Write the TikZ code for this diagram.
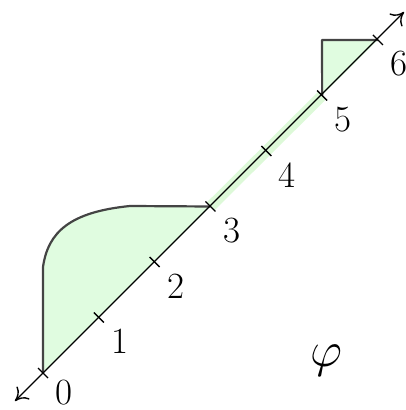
\documentclass[tikz,border=0pt]{standalone}
\usetikzlibrary{calc,arrows.meta}
\definecolor{fillgreen}{HTML}{E0FCE0}
\definecolor{bandgreen}{HTML}{DDF9D8}
\definecolor{edgegray}{HTML}{444444}
\begin{document}
\begin{tikzpicture}[x=0.5pt,y=-0.5pt,
  axisline/.style={line width=0.7pt,black},
  tickmark/.style={line width=0.7pt,black},
  outline/.style={draw=edgegray,line width=1.1pt,line join=round},
  numlabel/.style={font=\fontsize{18.5}{22}\selectfont,inner sep=0pt}]
\useasboundingbox (0,0) rectangle (405,410);
% tick coordinates
\foreach \i in {0,...,6}{
  \coordinate (t\i) at ({43+55.83*\i},{373-55.5*\i});
}
\coordinate (a0) at (15,401);
\coordinate (a1) at (404,12);
% green band between 3 and 5
\draw[bandgreen,line width=5.5pt] (t3) -- (t5);
% first region
\coordinate (c0) at (43,267);
\coordinate (c1) at (130,206);
\fill[fillgreen] (t0) -- (c0) .. controls (48,232) and (70,212) .. (c1) -- (t3) -- cycle;
\draw[outline] (t0) -- (c0) .. controls (48,232) and (70,212) .. (c1) -- (t3);
% second region
\coordinate (d0) at (322,40);
\fill[fillgreen] (t5) -- (d0) -- (t6) -- cycle;
\draw[outline] (t5) -- (d0) -- (t6);
% axis
\draw[axisline,{Computer Modern Rightarrow[length=6pt,width=9pt]}-{Computer Modern Rightarrow[length=6pt,width=9pt]}] (a0) -- (a1);
\foreach \i in {1,...,6}{
  \node[numlabel] (l\i) at ($(t\i)+(21,24)$) {\i};
}
\foreach \i in {0,...,6}{
  \draw[tickmark] ($(t\i)+(-5,-5)$) -- ($(t\i)+(5,5)$);
}
\node[numlabel] (l0) at ($(t0)+(21,20)$) {0};
\node[font=\fontsize{27}{30}\selectfont] (phi) at (326,361) {$\varphi$};
\end{tikzpicture}
\end{document}
